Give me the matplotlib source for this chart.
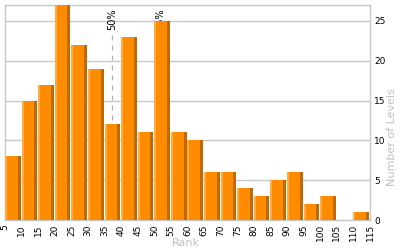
import matplotlib
matplotlib.use("Agg")
import matplotlib.pyplot as plt
import numpy as np

# ── Data ────────────────────────────────────────────────────────────────────
bin_edges = list(range(5, 120, 5))          # 5 .. 115
counts    = [8, 15, 17, 27, 22, 19, 12, 23, 11, 25, 11,
             10, 6, 6, 4, 3, 5, 6, 2, 3, 0, 1]
pct_marks  = [37.3, 51.7]
pct_labels = ["50%", "75%"]
y_ticks    = [0, 5, 10, 15, 20, 25]

# ── Style ───────────────────────────────────────────────────────────────────
ORANGE = "#ff8c00"
LIGHT  = "#ffac48"
DARK   = "#bf6a00"
GRID   = "#c8c8c8"
LABEL  = "#c0c0c0"

BIN    = 5.0
GAP    = 0.3
LSTRIP = 0.6
DSTRIP = 0.9

fig = plt.figure(figsize=(4, 2.5), dpi=100)
ax = fig.add_axes([0.0125, 0.12, 0.9125, 0.86])

lefts = np.array(bin_edges[:-1], dtype=float)
vals = np.array(counts, dtype=float)
w = BIN - GAP

ax.bar(lefts, vals, width=w, align="edge", color=ORANGE, zorder=3, linewidth=0)
ax.bar(lefts, vals, width=LSTRIP, align="edge", color=LIGHT, zorder=4, linewidth=0)
ax.bar(lefts + w - DSTRIP, vals, width=DSTRIP, align="edge", color=DARK,
       zorder=4, linewidth=0)

# percentile markers (drawn behind the bars)
for xm, lab in zip(pct_marks, pct_labels):
    ax.axvline(xm, ymin=0, ymax=0.87, color="#b0b0b0", linestyle=(0, (4, 4)),
               linewidth=0.9, zorder=1)
    ax.text(xm, 26.6, lab, rotation=90, ha="center", va="top", fontsize=7,
            color="black", zorder=2)

ax.set_xlim(5, 115)
ax.set_ylim(0, 27)
ax.set_xticks(bin_edges)
ax.set_xticklabels([str(b) for b in bin_edges], rotation=90)
ax.set_yticks(y_ticks)
ax.yaxis.tick_right()
ax.tick_params(length=0, pad=3, labelsize=6.5)
ax.grid(axis="y", color=GRID, linewidth=1, zorder=0)
for s in ax.spines.values():
    s.set_color(GRID)
    s.set_linewidth(1)

fig.text(186 / 400, 1 - 243 / 250, "Rank", color=LABEL, fontsize=8,
         ha="center", va="center")
fig.text(392 / 400, 1 - 137 / 250, "Number of Levels", color=LABEL, fontsize=8,
         rotation=90, ha="center", va="center")

fig.savefig("out.png", dpi=100)
